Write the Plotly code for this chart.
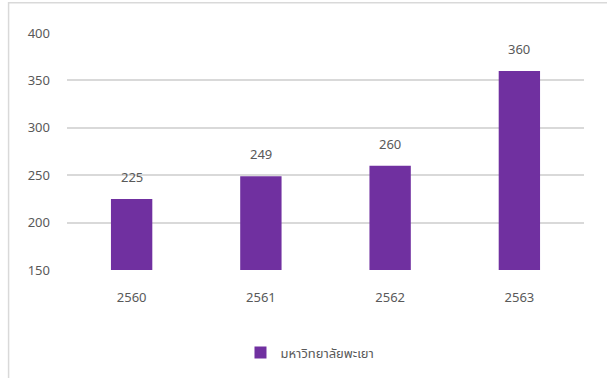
import plotly.graph_objects as go

# Yearly figures for the university (Thai Buddhist-era years)
years = ["2560", "2561", "2562", "2563"]
values = [225, 249, 260, 360]
series_name = "มหาวิทยาลัยพะเยา"
y_ticks = [150, 200, 250, 300, 350, 400]

BAR_COLOR = "#7030A0"
TEXT_COLOR = "#595959"
GRID_COLOR = "#D9D9D9"
FONT = "Tahoma, Noto Sans Thai, Noto Sans, sans-serif"

fig = go.Figure()
fig.add_trace(go.Bar(
    x=years,
    y=values,
    name=series_name,
    marker=dict(color=BAR_COLOR, line=dict(width=0)),
    showlegend=True,
))

# Value labels above each bar (category index positions)
for i, v in enumerate(values):
    fig.add_annotation(
        x=i, y=v, text=str(v), showarrow=False,
        yanchor="bottom", yshift=9,
        font=dict(size=13, color=TEXT_COLOR, family=FONT),
    )

# Light outer frame of the chart area
fig.add_shape(
    type="rect", xref="paper", yref="paper",
    x0=-0.113, x1=1.2, y0=-0.6, y1=1.128,
    line=dict(color=GRID_COLOR, width=1.5), fillcolor="rgba(0,0,0,0)",
    layer="below",
)

fig.update_layout(
    width=607, height=378,
    margin=dict(l=67, r=23, t=33, b=107),
    paper_bgcolor="white", plot_bgcolor="white",
    bargap=0.68,
    font=dict(family=FONT, size=13, color=TEXT_COLOR),
    legend=dict(
        orientation="h", x=0.47, xanchor="center", y=-0.28, yanchor="top",
        font=dict(size=13, color=TEXT_COLOR, family=FONT),
        itemwidth=30,
    ),
    xaxis=dict(
        type="category", range=[-0.5, len(years) - 0.5],
        showgrid=False, showline=False, zeroline=False,
        ticks="", ticklabelstandoff=18,
        tickfont=dict(size=13, color=TEXT_COLOR),
    ),
    yaxis=dict(
        range=[150, 400], tickvals=y_ticks,
        showgrid=True, gridcolor=GRID_COLOR, gridwidth=1.5,
        zeroline=False, showline=False, ticks="",
        ticklabelstandoff=16,
        tickfont=dict(size=13, color=TEXT_COLOR),
    ),
)

fig.write_html("out.html")
